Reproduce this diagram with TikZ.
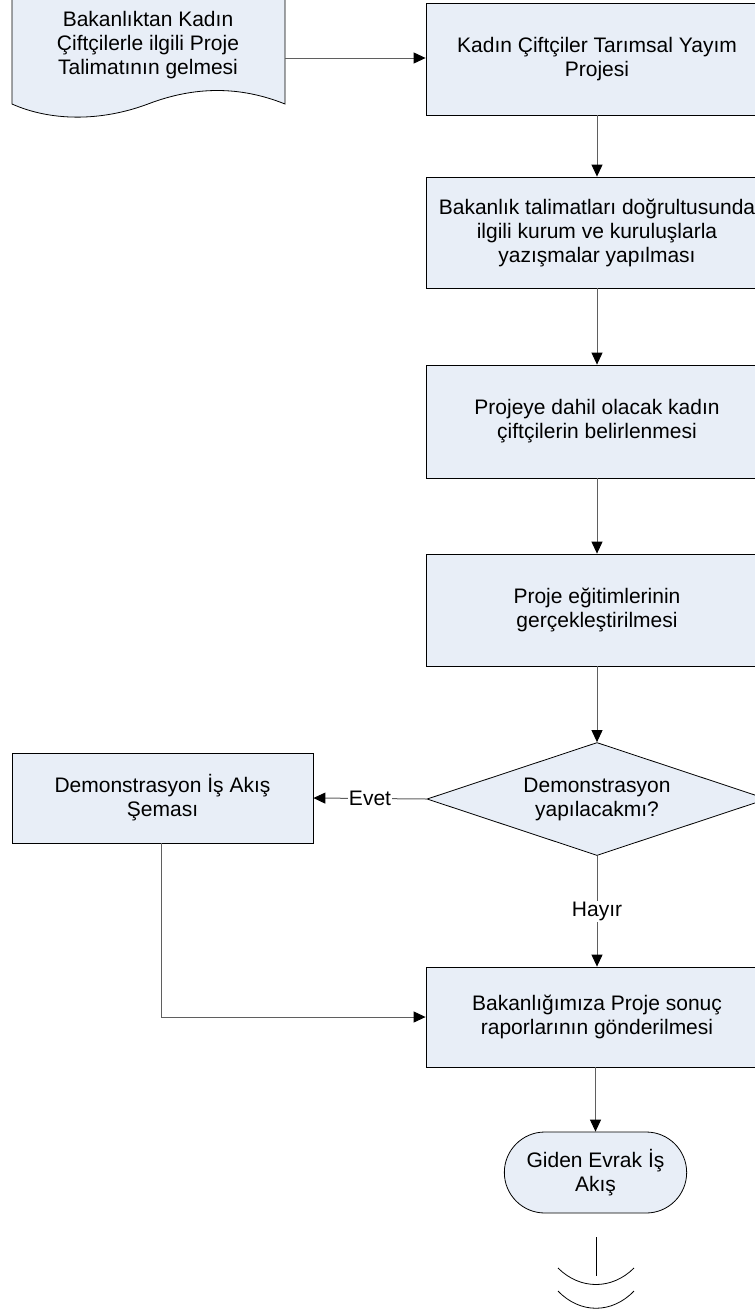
\documentclass[tikz,border=0pt]{standalone}
\usepackage{fontspec}
\setmainfont{Liberation Sans}
\usetikzlibrary{arrows.meta,shapes.geometric,shapes.misc}
\definecolor{boxfill}{RGB}{232,238,247}
\definecolor{linegray}{RGB}{95,95,95}

\begin{document}
\begin{tikzpicture}[x=1pt,y=-1pt,
	font=\fontsize{21}{24}\selectfont,
	>={Triangle[length=12pt,width=11pt,black]},
	box/.style={shape=rectangle,draw=black,fill=boxfill,line width=0.8pt,minimum width=342pt,minimum height=112pt,align=center},
	decision/.style={shape=diamond,aspect=3,draw=black,fill=boxfill,line width=0.8pt,minimum width=340pt,minimum height=113pt,align=center,inner sep=0pt},
	terminal/.style={shape=rounded rectangle,draw=black,fill=boxfill,line width=0.8pt,minimum width=189pt,minimum height=81pt,align=center},
	conn/.style={draw=linegray,line width=1pt,->},
	lbl/.style={fill=white,inner sep=1pt}]
	\clip (0,0) rectangle (755,1312);

	% document shape
	\draw[draw=black,fill=boxfill,line width=0.8pt] (12,-10) -- (12,104)
		.. controls (50,121) and (100,122) .. (148,104)
		.. controls (195,86) and (240,86) .. (285,104) -- (285,-10) -- cycle;
	\node[align=center] (doc) at (148,45) {Bakanlıktan Kadın\\Çiftçilerle ilgili Proje\\Talimatının gelmesi};
	\coordinate (docr) at (285,58);

	\node[box] (proj) at (597,59)     {Kadın Çiftçiler Tarımsal Yayım\\Projesi};
	\node[box,minimum height=111pt] (yazi) at (597,232.5)  {Bakanlık talimatları doğrultusunda\\ilgili kurum ve kuruluşlarla\\yazışmalar yapılması};
	\node[box,minimum height=113pt] (belir) at (597,421.5) {Projeye dahil olacak kadın\\çiftçilerin belirlenmesi};
	\node[box] (egit) at (597,610)    {Proje eğitimlerinin\\gerçekleştirilmesi};
	\node[decision] (demsor) at (597,799) {Demonstrasyon\\yapılacakmı?};
	\node[box,minimum width=301pt,minimum height=90pt] (demo) at (162.5,798) {Demonstrasyon İş Akış\\Şeması};
	\node[box,minimum height=100pt] (rapor) at (597,1017) {Bakanlığımıza Proje sonuç\\raporlarının gönderilmesi};
	\node[terminal] (giden) at (595.5,1172.5) {Giden Evrak İş\\Akış};

	\path (docr) edge[conn] (docr -| proj.west);
	\path (proj) edge[conn] (yazi);
	\path (yazi) edge[conn] (belir);
	\path (belir) edge[conn] (egit);
	\path (egit) edge[conn] (demsor);
	\path (demsor.west) edge[conn] node[lbl]{Evet} (demo.east);
	\path (demsor) edge[conn] node[lbl]{Hayır} (rapor);
	\draw[conn] (demo.south -| 161,0) |- (rapor.west);
	\path (rapor.south -| giden.north) edge[conn] (giden.north);

	% end symbol
	\draw[draw=black,line width=0.8pt] (596,1237) -- (596,1276);
	\draw[draw=black,line width=0.8pt] (558,1268) .. controls (580,1290) and (612,1290) .. (634,1268);
	\draw[draw=black,line width=0.8pt] (558,1291) .. controls (580,1314) and (612,1314) .. (634,1291);
\end{tikzpicture}
\end{document}
